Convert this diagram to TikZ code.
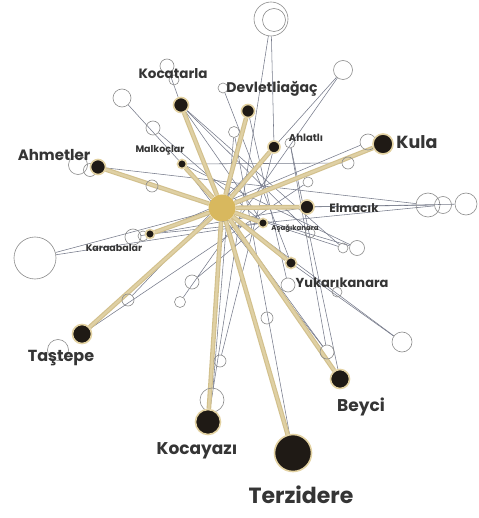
\documentclass[tikz,border=0pt]{standalone}
\usepackage{fontspec}
\setmainfont{Poppins}
\usetikzlibrary{backgrounds}
\definecolor{hubc}{HTML}{D8B85E}
\definecolor{goldd}{HTML}{D2C08C}
\definecolor{goldm}{HTML}{DFD0A4}
\definecolor{halo}{HTML}{E3D2A2}
\definecolor{thinc}{HTML}{767A8A}
\definecolor{circc}{HTML}{8C8C8C}
\definecolor{txtc}{HTML}{353535}
\definecolor{dotc}{HTML}{1F1A15}
\tikzset{
 blk/.style={circle,fill=dotc,draw=halo,line width=1.6pt,inner sep=0pt,minimum size=#1},
 wc/.style={circle,draw=circc,line width=0.6pt,inner sep=0pt,minimum size=#1},
 hubs/.style={circle,fill=hubc,inner sep=0pt,minimum size=#1},
 gl/.style={draw=goldd,line width=4.6pt},
 glin/.style={draw=goldm,line width=2.4pt},
 tl/.style={draw=thinc,line width=0.55pt},
 lbl/.style={text=txtc,inner sep=0pt,font=\bfseries\fontsize{#1}{#1}\selectfont}
}
\begin{document}
\begin{tikzpicture}[x=1pt,y=-1pt]
\begin{scope}[on background layer]
\fill[white] (0,0) rectangle (478,518);
\end{scope}
\useasboundingbox (0,0) rectangle (478,518);
% white circles
\node[wc=34pt] (w1) at (271,19) {};
\node[wc=23pt] (w1b) at (274,20) {};
\node[wc=19pt] (w2) at (343,70) {};
\node[wc=18pt] (w3) at (122,98) {};
\node[wc=14pt] (w4) at (167,66) {};
\node[wc=10pt] (w5) at (174,80) {};
\node[wc=14pt] (w6) at (153,128) {};
\node[wc=11pt] (w7) at (234,132) {};
\node[wc=19pt] (w8) at (78,165) {};
\node[wc=13pt] (w9) at (90,170) {};
\node[wc=12pt] (w10) at (152,186) {};
\node[wc=42pt] (w11) at (35,258) {};
\node[wc=16pt] (w12) at (133,237) {};
\node[wc=10pt] (w13) at (143,236) {};
\node[wc=24pt] (w14) at (428,205) {};
\node[wc=17pt] (w15) at (443,205) {};
\node[wc=22pt] (w16) at (466,204) {};
\node[wc=16pt] (w17) at (368,142) {};
\node[wc=12pt] (w18) at (348,163) {};
\node[wc=10pt] (w19) at (308,182) {};
\node[wc=10pt] (w20) at (343,248) {};
\node[wc=15pt] (w21) at (357,248) {};
\node[wc=20pt] (w22) at (402,342) {};
\node[wc=14pt] (w23) at (327,352) {};
\node[wc=12pt] (w24) at (267,318) {};
\node[wc=14pt] (w25) at (288,285) {};
\node[wc=10pt] (w26) at (337,292) {};
\node[wc=24pt] (w27) at (212,400) {};
\node[wc=12pt] (w28) at (220,361) {};
\node[wc=14pt] (w29) at (192,282) {};
\node[wc=11pt] (w30) at (180,302) {};
\node[wc=12pt] (w31) at (128,300) {};
\node[wc=21pt] (w32) at (58,350) {};
\node[wc=10pt] (w34) at (223,88) {};
\node[wc=10pt] (w35) at (290,143) {};
\node[wc=10pt] (w36) at (310,233) {};
% black nodes
\node[blk=15pt] (koc) at (181,105) {};
\node[blk=13pt] (dev) at (248,111) {};
\node[blk=12pt] (ahl) at (274,147) {};
\node[blk=20pt] (kula) at (383,144) {};
\node[blk=15pt] (ahm) at (98,167) {};
\node[blk=9pt] (mal) at (182,164) {};
\node[blk=14pt] (elm) at (307,207) {};
\node[blk=9pt] (aska) at (263,223) {};
\node[blk=9pt] (kar) at (150,234) {};
\node[blk=11pt] (yuk) at (291,263) {};
\node[blk=19pt] (tas) at (82,334) {};
\node[blk=25pt] (kyz) at (208,422) {};
\node[blk=19pt] (bey) at (340,379) {};
\node[blk=37pt] (ter) at (293,453) {};
\node[hubs=27pt] (hub) at (222,208) {};
% labels
\node[lbl=13.5] (lkoc) at (173,74) {Kocatarla};
\node[lbl=14] (ldev) at (272,89) {Devletliağaç};
\node[lbl=10] (lahl) at (306,138) {Ahlatlı};
\node[lbl=17.5] (lkula) at (417,142) {Kula};
\node[lbl=15] (lahm) at (54,155) {Ahmetler};
\node[lbl=9.5] (lmal) at (160,150) {Malkoçlar};
\node[lbl=12] (lelm) at (354,208) {Elmacık};
\node[lbl=7] (laska) at (295,229) {Aşağıkanara};
\node[lbl=9.5] (lkar) at (114,248) {Karaabalar};
\node[lbl=13] (lyuk) at (342,283) {Yukarıkanara};
\node[lbl=16] (ltas) at (61,358) {Taştepe};
\node[lbl=17] (lkyz) at (197,451) {Kocayazı};
\node[lbl=17] (lbey) at (361,407) {Beyci};
\node[lbl=22] (lter) at (301,495) {Terzidere};
\begin{scope}[on background layer]
\draw[tl] (w1) -- (ahl);
\draw[tl] (w1) -- (kyz);
\draw[tl] (w2) -- (w30);
\draw[tl] (w4) -- (koc);
\draw[tl] (koc) -- (w20);
\draw[tl] (koc) -- (aska);
\draw[tl] (w3) -- (hub);
\draw[tl] (w6) -- (aska);
\draw[tl] (w34) -- (yuk);
\draw[tl] (w35) -- (w23);
\draw[tl] (w7) -- (ter);
\draw[tl] (ahm) -- (w14);
\draw[tl] (mal) -- (w23);
\draw[tl] (mal) -- (w18);
\draw[tl] (w11) -- (aska);
\draw[tl] (w11) -- (hub);
\draw[tl] (kar) -- (w17);
\draw[tl] (kar) -- (w15);
\draw[tl] (w16) -- (elm);
\draw[tl] (w15) -- (hub);
\draw[tl] (w20) -- (hub);
\draw[tl] (w21) -- (hub);
\draw[tl] (w21) -- (mal);
\draw[tl] (w22) -- (hub);
\draw[tl] (w22) -- (yuk);
\draw[tl] (w25) -- (dev);
\draw[tl] (w28) -- (ahl);
\draw[tl] (w29) -- (aska);
\draw[tl] (tas) -- (w19);
\draw[tl] (w27) -- (w7);
\draw[tl] (w23) -- (hub);
\draw[tl] (w36) -- (koc);
\draw[tl] (w2) -- (ahl);
\draw[tl] (w12) -- (elm);
\draw[tl] (bey) -- (w35);
\draw[tl] (w31) -- (ahl);
\foreach \n in {koc,dev,ahl,kula,ahm,mal,elm,aska,kar,yuk,tas,kyz,bey,ter}
  \draw[gl] (hub) -- (\n);
\foreach \n in {koc,dev,ahl,kula,ahm,mal,elm,aska,kar,yuk,tas,kyz,bey,ter}
  \draw[glin] (hub) -- (\n);
\end{scope}
\end{tikzpicture}
\end{document}
